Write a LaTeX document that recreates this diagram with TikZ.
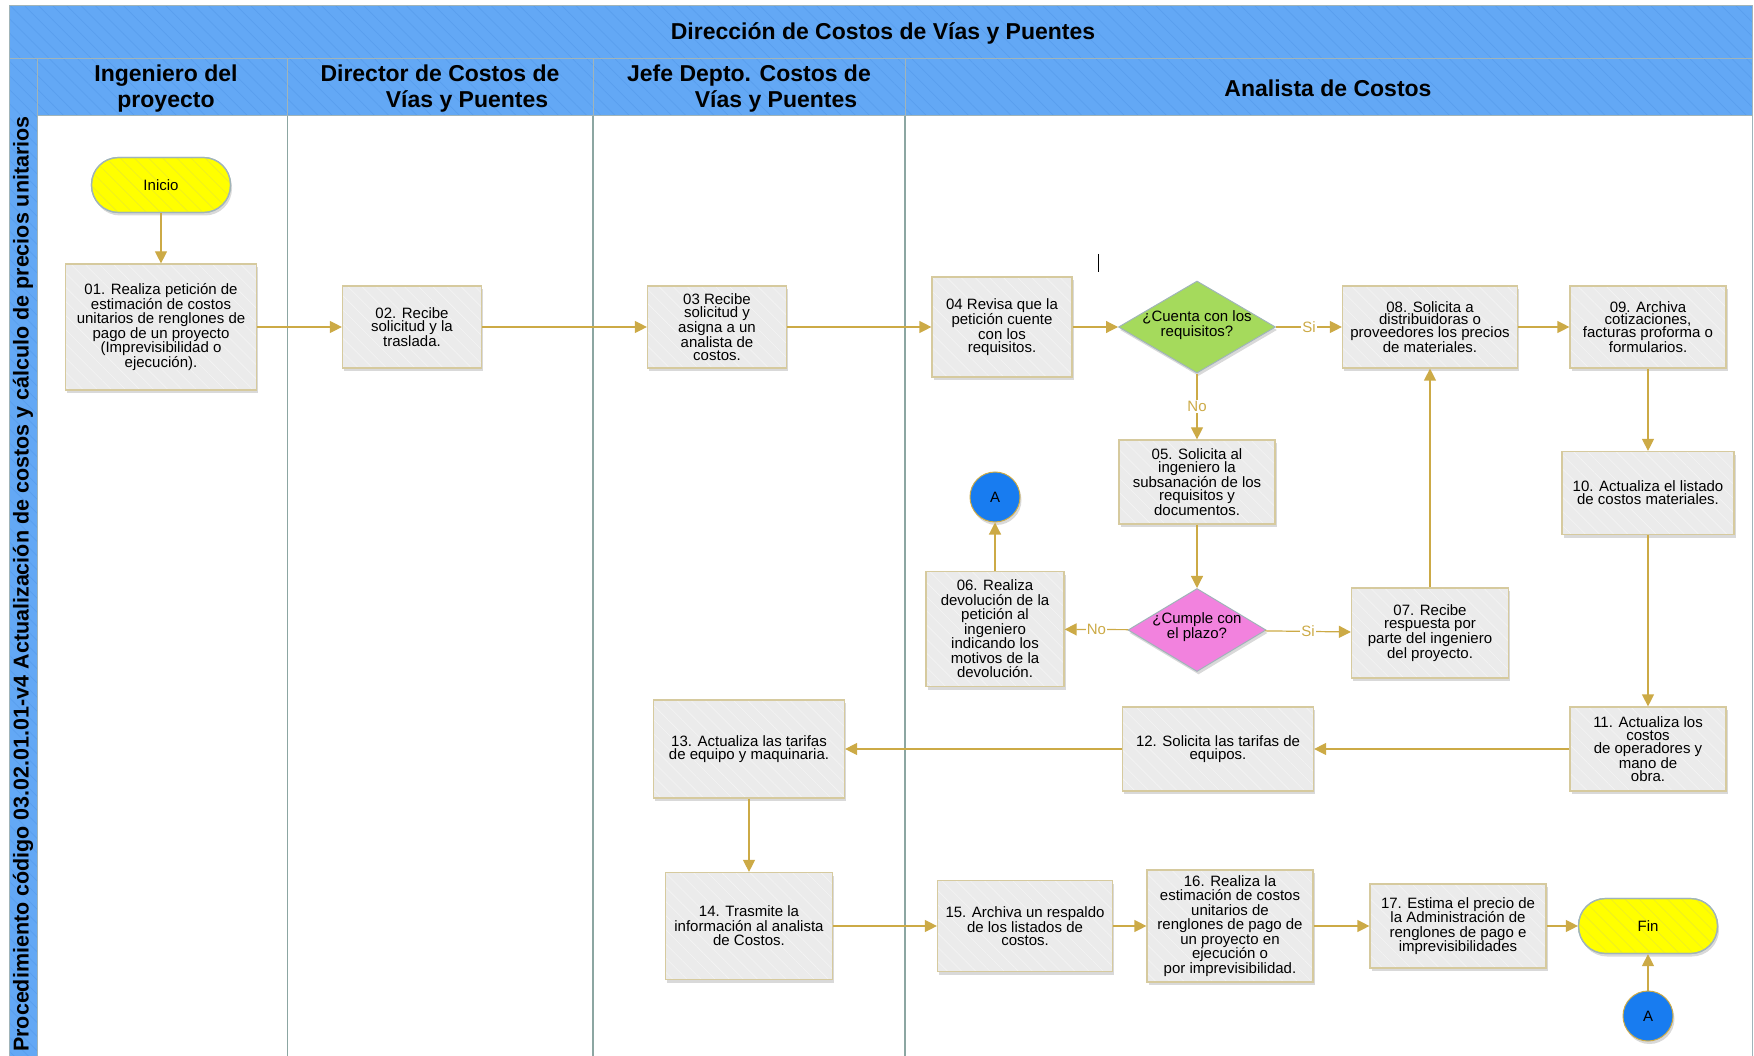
\documentclass[tikz,border=0pt]{standalone}
\usepackage{fontspec}
\setmainfont{Liberation Sans}
\usetikzlibrary{arrows.meta,shapes.geometric,shadows,patterns.meta}

\definecolor{bandblue}{RGB}{99,168,245}
\definecolor{stripeblue}{RGB}{90,159,238}
\definecolor{bandline}{RGB}{160,180,185}
\definecolor{laneline}{RGB}{140,166,162}
\definecolor{flowgold}{RGB}{204,170,70}
\definecolor{boxfill}{RGB}{235,235,235}
\definecolor{boxstripe}{RGB}{244,244,244}
\definecolor{boxline}{RGB}{214,202,158}
\definecolor{startyellow}{RGB}{255,255,0}
\definecolor{yellowstripe}{RGB}{236,236,40}
\definecolor{askgreen}{RGB}{165,218,92}
\definecolor{askpink}{RGB}{242,130,222}
\definecolor{linkblue}{RGB}{24,124,240}

\newcommand{\boxfont}{\fontsize{15}{14.5}\selectfont}

\begin{document}
\begin{tikzpicture}[x=1pt,y=-1pt,
    shade/.style={drop shadow={shadow xshift=1.5pt,shadow yshift=-3pt,opacity=0.3}},
    stripes/.style 2 args={postaction={pattern={Lines[angle=-45,distance=10pt,line width=0.6pt]},pattern color=#1},
      postaction={draw=#2,line width=1.2pt}},
    box/.style={shade,draw=boxline,line width=1.2pt,fill=boxfill,stripes={boxstripe}{boxline},
      align=center,inner sep=2pt,font=\boxfont},
    wh/.style 2 args={minimum width=#1pt,minimum height=#2pt},
    tight/.style={font=\fontsize{15}{12.8}\selectfont},
    term/.style={shade,draw=bandline,line width=1.2pt,fill=startyellow,stripes={yellowstripe}{bandline},
      rounded corners=27pt,minimum width=139pt,minimum height=55pt,font=\boxfont},
    ask/.style={shade,diamond,draw=bandline,line width=1pt,inner sep=0pt},
    asktext/.style={align=center,font=\fontsize{15}{12.5}\selectfont},
    link/.style={shade,circle,draw=flowgold,line width=1pt,fill=linkblue,
      minimum size=50pt,inner sep=0pt,font=\boxfont},
    flow/.style={draw=flowgold,line width=1.2pt,-{Triangle[length=12pt,width=12pt]}},
    lbl/.style={fill=white,text=flowgold,inner sep=1pt,font=\boxfont},
    lanehead/.style={font=\fontsize{23}{26}\selectfont\bfseries,align=center}
  ]
  \useasboundingbox (0,0) rectangle (1754,1056);

  % bands
  \fill[bandblue] (9,6) rectangle (1752,116);
  \fill[bandblue] (9,59) rectangle (37,1056);
  \fill[pattern={Lines[angle=-45,distance=10pt,line width=0.7pt]},pattern color=stripeblue]
    (9,6) rectangle (1752,116);
  \fill[pattern={Lines[angle=-45,distance=10pt,line width=0.7pt]},pattern color=stripeblue]
    (9,116) rectangle (37,1056);
  \draw[bandline,line width=1pt] (9,6) rectangle (1752,1056);
  \draw[bandline,line width=1pt] (9,59) -- (1752,59) (37,116) -- (1752,116) (37,59) -- (37,1056);
  \foreach \x in {287.5,593,905} {
    \draw[bandline,line width=1pt] (\x,59) -- (\x,116);
    \draw[laneline,line width=1.5pt] (\x,116) -- (\x,1056);
  }

  \node[font=\fontsize{23}{26}\selectfont\bfseries] (title) at (883,33) {Dirección de Costos de Vías y Puentes};
  \node[lanehead] (h1) at (166,89) {Ingeniero del\\proyecto};
  \node[lanehead] (h2) at (440,89) {Director de Costos de\\\hspace*{54pt}Vías y Puentes};
  \node[lanehead] (h3) at (749,89) {Jefe Depto. Costos de\\\hspace*{54pt}Vías y Puentes};
  \node[lanehead] (h4) at (1328,88) {Analista de Costos};
  \node[rotate=90,font=\fontsize{21.5}{23}\selectfont\bfseries] (side) at (23,584)
    {Procedimiento código 03.02.01.01-v4 Actualización de costos y cálculo de precios unitarios};

  \draw[line width=1pt] (1098,254) -- (1098,272);

  % steps
  \node[term] (ini) at (161,185) {Inicio};
  \node[box,wh={191}{126}] (b01) at (161,327) {01. Realiza petición de\\estimación de costos\\unitarios de renglones de\\pago de un proyecto\\(Imprevisibilidad o\\ejecución).};
  \node[box,tight,wh={139}{82}] (b02) at (412,327) {02. Recibe\\solicitud y la\\traslada.};
  \node[box,tight,wh={139}{82}] (b03) at (717,327) {03 Recibe\\solicitud y\\asigna a un\\analista de\\costos.};
  \node[box,tight,wh={140}{100}] (b04) at (1002,327) {04 Revisa que la\\petición cuente\\con los\\requisitos.};
  \node[ask,fill=askgreen,wh={157}{92}] (d1) at (1197,327) {};
  \node[asktext] (d1txt) at (1197,325) {¿Cuenta con los\\requisitos?};
  \node[box,tight,wh={175}{82}] (b08) at (1430,327) {08. Solicita a\\distribuidoras o\\proveedores los precios\\de materiales.};
  \node[box,tight,wh={156}{82}] (b09) at (1648,327) {09. Archiva\\cotizaciones,\\facturas proforma o\\formularios.};
  \node[box,tight,wh={156}{84}] (b05) at (1197,482) {05. Solicita al\\ingeniero la\\subsanación de los\\requisitos y\\documentos.};
  \node[link] (a1) at (995,497) {A};
  \node[box,wh={138}{115}] (b06) at (995,629) {06. Realiza\\devolución de la\\petición al\\ingeniero\\indicando los\\motivos de la\\devolución.};
  \node[ask,fill=askpink,wh={138}{83}] (d2) at (1197,630) {};
  \node[asktext] (d2txt) at (1197,627) {¿Cumple con\\el plazo?};
  \node[box,tight,wh={157}{90}] (b07) at (1430,633) {07. Recibe\\respuesta por\\parte del ingeniero\\del proyecto.};
  \node[box,tight,wh={172}{83}] (b10) at (1648,493) {10. Actualiza el listado\\de costos materiales.};
  \node[box,tight,wh={156}{84}] (b11) at (1648,749) {11. Actualiza los\\costos\\de operadores y\\mano de\\obra.};
  \node[box,tight,wh={191}{84}] (b12) at (1218,749) {12. Solicita las tarifas de\\equipos.};
  \node[box,tight,wh={191}{98}] (b13) at (749,749) {13. Actualiza las tarifas\\de equipo y maquinaria.};
  \node[box,wh={167}{107}] (b14) at (749,926) {14. Trasmite la\\información al analista\\de Costos.};
  \node[box,tight,wh={175}{91}] (b15) at (1025,926) {15. Archiva un respaldo\\de los listados de\\costos.};
  \node[box,wh={166}{112}] (b16) at (1230,926) {16. Realiza la\\estimación de costos\\unitarios de\\renglones de pago de\\un proyecto en\\ejecución o\\por imprevisibilidad.};
  \node[box,wh={176}{84}] (b17) at (1458,926) {17. Estima el precio de\\la Administración de\\renglones de pago e\\imprevisibilidades};
  \node[term] (fin) at (1648,926) {Fin};
  \node[link] (a2) at (1648,1016) {A};

  % connectors
  \foreach \from/\to in {ini/b01,b01/b02,b02/b03,b03/b04,b04/d1,b08/b09,b05/d2,b07/b08,
      b06/a1,b09/b10,b10/b11,b11/b12,b12/b13,b13/b14,b14/b15,b15/b16,b16/b17,b17/fin,a2/fin}
    \draw[flow] (\from) -- (\to);
  \draw[flow] (d1) -- node[lbl] {Si} (b08);
  \draw[flow] (d1) -- node[lbl] {No} (b05);
  \draw[flow] (d2) -- node[lbl] {No} (b06);
  \draw[flow] (d2) -- node[lbl] {Si} (b07);
\end{tikzpicture}
\end{document}
